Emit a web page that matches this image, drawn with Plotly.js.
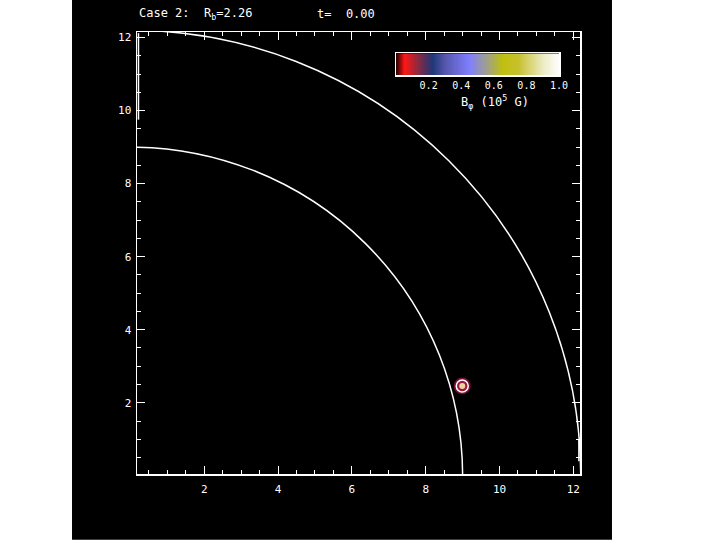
<!DOCTYPE html>
<html>
<head>
<meta charset="utf-8">
<script src="https://cdn.plot.ly/plotly-3.0.1.min.js"></script>
<style>
html,body{margin:0;padding:0;background:#ffffff;}
#chart{width:720px;height:540px;}
</style>
</head>
<body>
<div id="chart"></div>
<script>
// ---- data ----
const radii = [9.0, 12.2];                 // contour radii (inner, outer)
const edgeLeftX = [0.22, 0.22];            // contour piece hugging the left edge
const edgeLeftY = [9.75, 12.12];
const edgeRightX = [12.15, 12.15];         // contour piece hugging the right edge
const edgeRightY = [0.4, 1.0];
const bubbleX = [8.99];
const bubbleY = [2.46];
const xTickVals = [2, 4, 6, 8, 10, 12];
const yTickVals = [2, 4, 6, 8, 10, 12];
const cbValues = [0, 0.05, 0.1, 0.15, 0.2, 0.25, 0.3, 0.35, 0.4, 0.45, 0.5,
                  0.55, 0.6, 0.65, 0.7, 0.75, 0.8, 0.85, 0.9, 0.95, 1.0];
const cbTickVals = [0.2, 0.4, 0.6, 0.8, 1.0];
const cbTickText = ['0.2', '0.4', '0.6', '0.8', '1.0'];
const cbScale = [
  [0.00, '#300000'], [0.05, '#ff1818'], [0.12, '#a02838'], [0.18, '#503060'],
  [0.22, '#203878'], [0.30, '#5858b0'], [0.45, '#8080ff'], [0.55, '#a0a090'],
  [0.65, '#c0c010'], [0.75, '#c8c030'], [0.90, '#eeeec8'], [1.00, '#ffffff']
];

const font = {family: 'DejaVu Sans Mono, monospace', color: '#ffffff', size: 11};

const traces = [
  {x: edgeLeftX, y: edgeLeftY, type: 'scatter', mode: 'lines', hoverinfo: 'skip',
   line: {color: '#ffffff', width: 1.5}},
  {x: edgeRightX, y: edgeRightY, type: 'scatter', mode: 'lines', hoverinfo: 'skip',
   line: {color: '#ffffff', width: 1.5}},
  {x: bubbleX, y: bubbleY, type: 'scatter', mode: 'markers', hoverinfo: 'skip',
   marker: {size: 17, color: '#70102c', line: {width: 0}}},
  {x: bubbleX, y: bubbleY, type: 'scatter', mode: 'markers', hoverinfo: 'skip',
   marker: {size: 12, color: '#a01840', line: {width: 1.5, color: '#ffffff'}}},
  {x: bubbleX, y: bubbleY, type: 'scatter', mode: 'markers', hoverinfo: 'skip',
   marker: {size: 6, color: '#e8d8a0', line: {width: 0}}},
  {z: [cbValues], x: cbValues, y: [0], type: 'heatmap', xaxis: 'x2', yaxis: 'y2',
   colorscale: cbScale, zmin: 0, zmax: 1, zsmooth: 'best', showscale: false, hoverinfo: 'skip'}
];

const shapes = [
  {type: 'rect', xref: 'paper', yref: 'paper', x0: -0.1467, x1: 1.0722, y0: -0.149, y1: 1.0724,
   fillcolor: '#000000', line: {width: 0}, layer: 'below'}
];
radii.forEach(r => shapes.push({
  type: 'circle', xref: 'x', yref: 'y', x0: -r, x1: r, y0: -r, y1: r,
  line: {color: '#ffffff', width: 1.5}, fillcolor: 'rgba(0,0,0,0)', layer: 'above'
}));

const axisCommon = {
  showgrid: false, zeroline: false, showline: true, linecolor: '#ffffff', linewidth: 1.5,
  mirror: 'ticks', ticks: 'inside', ticklen: 8, tickwidth: 1, tickcolor: '#ffffff',
  tickfont: font,
  minor: {dtick: 0.5, ticks: 'inside', ticklen: 4, tickcolor: '#ffffff', tickwidth: 1, showgrid: false}
};

const layout = {
  width: 720, height: 540,
  margin: {l: 137, r: 140, t: 32, b: 66},
  paper_bgcolor: '#ffffff', plot_bgcolor: '#000000',
  showlegend: false,
  font: font,
  xaxis: Object.assign({}, axisCommon, {range: [0.18, 12.18], tickvals: xTickVals, tick0: 0, ticklabelstandoff: 4}),
  yaxis: Object.assign({}, axisCommon, {range: [0.05, 12.15], tickvals: yTickVals, tick0: 0, ticklabelstandoff: 2}),
  xaxis2: {domain: [0.5847, 0.9526], anchor: 'y2', range: [0, 1], showgrid: false, zeroline: false,
           showline: true, mirror: true, linecolor: '#ffffff', linewidth: 1.5,
           ticks: '', tickvals: cbTickVals, ticktext: cbTickText,
           tickfont: {family: font.family, color: '#ffffff', size: 10}},
  yaxis2: {domain: [0.9027, 0.9518], anchor: 'x2', range: [-0.5, 0.5], showgrid: false, zeroline: false,
           showline: true, mirror: true, linecolor: '#ffffff', linewidth: 1.5,
           showticklabels: false, ticks: ''},
  shapes: shapes,
  annotations: [
    {text: 'Case 2:&nbsp; R<sub>b</sub>=2.26', xref: 'paper', yref: 'paper', x: 0, y: 1.041,
     xanchor: 'left', yanchor: 'middle', showarrow: false, font: {family: font.family, color: '#ffffff', size: 12}},
    {text: 't=&nbsp;&nbsp;0.00', xref: 'paper', yref: 'paper', x: 0.4018, y: 1.041,
     xanchor: 'left', yanchor: 'middle', showarrow: false, font: {family: font.family, color: '#ffffff', size: 12}},
    {text: 'B<sub>φ</sub> (10<sup>5</sup> G)', xref: 'paper', yref: 'paper', x: 0.808, y: 0.8416,
     xanchor: 'center', yanchor: 'middle', showarrow: false, font: {family: font.family, color: '#ffffff', size: 12}}
  ]
};

Plotly.newPlot('chart', traces, layout, {displayModeBar: false, staticPlot: true});
</script>
</body>
</html>
